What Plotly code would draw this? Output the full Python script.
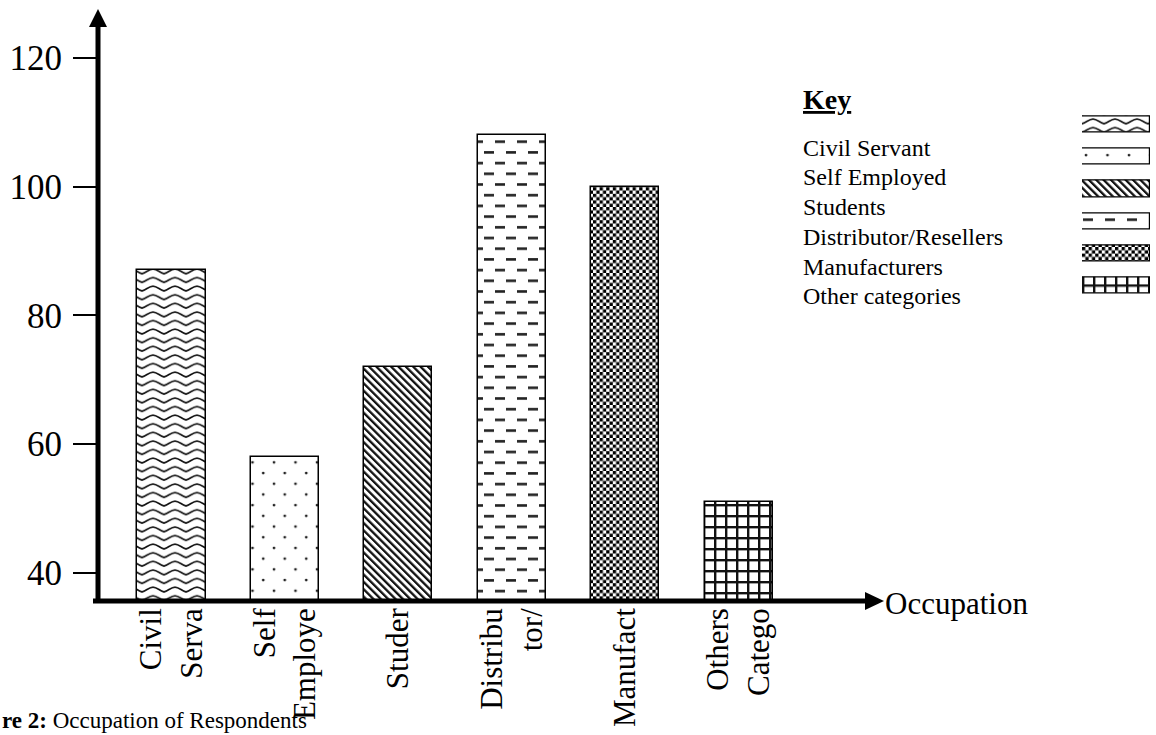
import plotly.graph_objects as go

# Respondent counts by occupation
categories = ["Civil Servant", "Self Employed", "Students",
              "Distributor/Resellers", "Manufacturers", "Other categories"]
respondents = [87, 58, 72, 108, 100, 51]
# Axis labels as printed under each bar
tick_labels = ["Civil<br>Serva", "Self<br>Employe", "Studer",
               "Distribu<br>tor/", "Manufact", "Others<br>Catego"]
y_ticks = [40, 60, 80, 100, 120]

# Built-in fill patterns (fallback), one per occupation
pat_shape = ["-", ".", "\\", "-", "x", "+"]
pat_size = [8, 11, 7, 10, 5, 11]
pat_solid = [0.3, 0.05, 0.4, 0.15, 0.55, 0.35]

# Hatch tiles used for the bars and key: (width, height, transform, svg body)
hatch_tiles = [
    # wavy lines
    (22, 8.6, "", '<path d="M-1,6.8 C3.5,6.8 6.5,2 11,2 C15.5,2 18.5,6.8 23,6.8" '
                  'fill="none" stroke="#111" stroke-width="1.7"/>'),
    # staggered dots
    (21.5, 21.4, "", '<circle cx="4" cy="4" r="1.4" fill="#222"/>'
                     '<circle cx="14.75" cy="14.7" r="1.4" fill="#222"/>'),
    # dense downward diagonals
    (5.2, 5.2, "rotate(-45)", '<rect x="0" y="0" width="2.3" height="5.2" fill="#111"/>'),
    # staggered dashes
    (22, 21.4, "", '<rect x="1" y="3" width="10" height="2.6" fill="#222"/>'
                   '<rect x="12" y="13.7" width="10" height="2.6" fill="#222"/>'),
    # fine checkerboard
    (6.6, 6.6, "", '<rect x="0" y="0" width="3.3" height="3.3" fill="#000"/>'
                   '<rect x="3.3" y="3.3" width="3.3" height="3.3" fill="#000"/>'),
    # square grid
    (11, 11, "", '<rect x="0" y="0" width="11" height="2.4" fill="#111"/>'
                 '<rect x="0" y="0" width="2.4" height="11" fill="#111"/>'),
]

W, H = 1156, 735
FONT = "Liberation Serif"


def px(x):
    return x / W


def py(y):
    return 1 - y / H


fig = go.Figure()

pattern = dict(shape=pat_shape, size=pat_size, solidity=pat_solid,
               fgcolor="black", bgcolor="white", fillmode="overlay")

fig.add_trace(go.Bar(
    x=categories, y=respondents, width=0.6,
    marker=dict(color="white", line=dict(color="black", width=1.5),
                pattern=pattern),
    showlegend=False,
))

# Key swatches
fig.add_trace(go.Bar(
    x=[1] * len(categories), y=categories, orientation="h", width=0.5,
    xaxis="x2", yaxis="y2",
    marker=dict(color="white", line=dict(color="black", width=1.2),
                pattern=pattern),
    showlegend=False,
))

fig.update_layout(
    width=W, height=H,
    margin=dict(l=0, r=0, t=0, b=0),
    template="none",
    paper_bgcolor="white", plot_bgcolor="white",
    font=dict(family=FONT, color="black"),
    bargap=0,
    xaxis=dict(
        domain=[px(98), px(883)], anchor="y",
        type="category", categoryorder="array", categoryarray=categories,
        tickvals=categories, ticktext=tick_labels, tickangle=-90,
        tickfont=dict(family=FONT, size=31), ticks="",
        range=[-0.648, 6.274], showgrid=False, zeroline=False,
        showline=False, automargin=False,
    ),
    yaxis=dict(
        domain=[py(601), py(9)], anchor="x",
        range=[35.6, 127.6], tickvals=y_ticks,
        ticks="outside", ticklen=24, tickwidth=2, tickcolor="black",
        tickfont=dict(family=FONT, size=35), ticklabelstandoff=4,
        showgrid=False, zeroline=False, showline=False, automargin=False,
    ),
    xaxis2=dict(domain=[px(1082), px(1150)], anchor="y2", range=[0, 1],
                visible=False, automargin=False),
    yaxis2=dict(domain=[py(301.6), py(108.4)], anchor="x2", type="category",
                categoryorder="array", categoryarray=categories,
                range=[5.5, -0.5], visible=False, automargin=False),
)

# Arrowed axes
line = dict(color="black", width=5)
fig.add_shape(type="line", xref="paper", yref="paper",
              x0=px(98), x1=px(98), y0=py(603), y1=py(24), line=line,
              layer="above")
fig.add_shape(type="path", xref="paper", yref="paper", layer="above",
              path=f"M{px(98)},{py(9)} L{px(89)},{py(27)} L{px(107)},{py(27)} Z",
              fillcolor="black", line=dict(width=0))
fig.add_shape(type="line", xref="paper", yref="paper",
              x0=px(93), x1=px(868), y0=py(601), y1=py(601), line=line,
              layer="above")
fig.add_shape(type="path", xref="paper", yref="paper", layer="above",
              path=f"M{px(884)},{py(601)} L{px(865)},{py(592)} L{px(865)},{py(610)} Z",
              fillcolor="black", line=dict(width=0))

fig.add_annotation(text="Occupation", xref="paper", yref="paper",
                   x=px(883), y=py(603), xanchor="left", yanchor="middle",
                   showarrow=False, font=dict(family=FONT, size=31))

# Key text
fig.add_annotation(text="<b><u>Key</u></b>", xref="paper", yref="paper",
                   x=px(801), y=py(99), xanchor="left", yanchor="middle",
                   showarrow=False, font=dict(family=FONT, size=28))
key_y = [148, 177, 207, 237, 267, 296]
for name, yy in zip(categories, key_y):
    fig.add_annotation(text=name, xref="paper", yref="paper",
                       x=px(801), y=py(yy), xanchor="left", yanchor="middle",
                       showarrow=False, font=dict(family=FONT, size=24))

# Figure caption
fig.add_annotation(text="<b>re 2:</b> Occupation of Respondents",
                   xref="paper", yref="paper", x=0, y=0,
                   xanchor="left", yanchor="bottom", showarrow=False,
                   font=dict(family=FONT, size=23))

# Swap the bar fills for the hand-drawn hatch tiles
tile_js = ",".join(
    "[%s,%s,'%s','%s']" % (w, h, t, body) for w, h, t, body in hatch_tiles
)
post_js = """
var gd = document.getElementById('{plot_id}');
var svg = gd.querySelector('svg.main-svg');
var NS = 'http://www.w3.org/2000/svg';
var defs = svg.querySelector('defs') || svg.insertBefore(document.createElementNS(NS, 'defs'), svg.firstChild);
var tiles = [%s];
tiles.forEach(function(t, i) {
  var p = document.createElementNS(NS, 'pattern');
  p.setAttribute('id', 'occ-hatch-' + i);
  p.setAttribute('patternUnits', 'userSpaceOnUse');
  p.setAttribute('width', t[0]);
  p.setAttribute('height', t[1]);
  if (t[2]) p.setAttribute('patternTransform', t[2]);
  p.innerHTML = '<rect x="0" y="0" width="' + t[0] + '" height="' + t[1] + '" fill="white"/>' + t[3];
  defs.appendChild(p);
});
gd.querySelectorAll('.barlayer .trace').forEach(function(tr) {
  tr.querySelectorAll('.point').forEach(function(pt, i) {
    pt.querySelectorAll('path').forEach(function(pa) {
      pa.style.fill = 'url(#occ-hatch-' + i + ')';
    });
  });
});
""" % tile_js

fig.write_html("out.html", post_script=post_js)
